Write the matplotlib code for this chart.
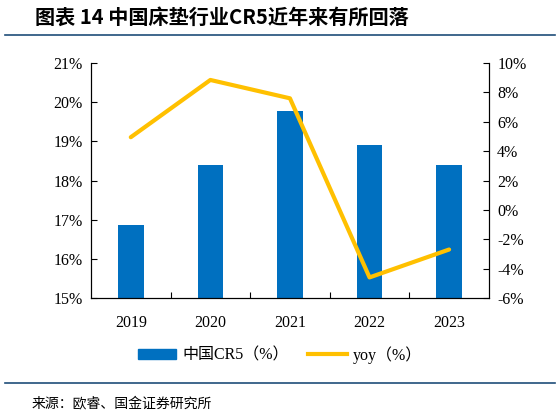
import matplotlib
matplotlib.use("Agg")
import matplotlib.pyplot as plt
from matplotlib.lines import Line2D
from matplotlib.ticker import FuncFormatter, FixedLocator

years = ["2019", "2020", "2021", "2022", "2023"]
cr5 = [16.86, 18.40, 19.78, 18.90, 18.40]
yoy = [4.95, 8.85, 7.6, -4.6, -2.7]

title = "图表 14 中国床垫行业CR5近年来有所回落"
source = "来源：欧睿、国金证券研究所"
leg_labels = ["中国CR5（%）", "yoy（%）"]

serif = ["Liberation Serif", "Noto Sans CJK SC"]
plt.rcParams["font.family"] = serif

fig = plt.figure(figsize=(5.6, 4.15), dpi=100)
ax = fig.add_axes([0.1625, 0.282, 0.873 - 0.1625, 0.848 - 0.282])
x = list(range(len(years)))
bars = ax.bar(x, cr5, width=0.32, color="#0070C0", zorder=2)
ax.set_ylim(15, 21)
ax.set_xlim(-0.5, 4.5)
ax.yaxis.set_major_locator(FixedLocator(list(range(15, 22))))
ax.yaxis.set_major_formatter(FuncFormatter(lambda v, p: f"{v:.0f}%"))
ax.set_xticks(x)
ax.set_xticklabels(years)
ax.set_xticks([0.5, 1.5, 2.5, 3.5], minor=True)
ax.tick_params(axis="x", which="major", length=0, pad=12, labelsize=11.5)
ax.tick_params(axis="x", which="minor", direction="in", length=4, width=0.8)
ax.tick_params(axis="y", direction="in", length=4, width=0.8, labelsize=11.5, pad=6)
ax.spines["top"].set_visible(False)

ax2 = ax.twinx()
line, = ax2.plot(x, yoy, color="#FFC000", lw=3, solid_capstyle="round", zorder=3)
ax2.set_ylim(-6, 10)
ax2.yaxis.set_major_locator(FixedLocator(list(range(-6, 11, 2))))
ax2.yaxis.set_major_formatter(FuncFormatter(lambda v, p: f"{v:.0f}%"))
ax2.tick_params(axis="y", direction="in", length=4, width=0.8, labelsize=11.5, pad=6)
ax2.spines["top"].set_visible(False)
for a in (ax, ax2):
    for s in a.spines.values():
        s.set_linewidth(0.8)

# legend
handles = [plt.Rectangle((0, 0), 1, 1, color="#0070C0"),
           Line2D([0], [0], color="#FFC000", lw=3)]
fig.legend(handles, leg_labels, loc="center", bbox_to_anchor=(0.5, 1 - 355 / 415),
           ncol=2, frameon=False, handlelength=2.4, handleheight=0.6,
           columnspacing=1.2, handletextpad=0.4,
           prop={"family": serif, "size": 11.5})

# title & rules
fig.text(35 / 560, 1 - 17 / 415, title, fontsize=14.5, fontweight="bold",
         family=["Noto Sans CJK SC", "DejaVu Sans"], style="italic",
         ha="left", va="center", color="black")
fig.add_artist(Line2D([5 / 560, 555 / 560], [1 - 35 / 415, 1 - 35 / 415],
                      color="#1F4E79", lw=1.2))
fig.add_artist(Line2D([5 / 560, 555 / 560], [1 - 383 / 415, 1 - 383 / 415],
                      color="#1F4E79", lw=1.2))
fig.text(32 / 560, 1 - 403 / 415, source, fontsize=10,
         family=["Noto Sans CJK SC", "DejaVu Sans"], ha="left", va="center")

fig.savefig("out.png", dpi=100)
